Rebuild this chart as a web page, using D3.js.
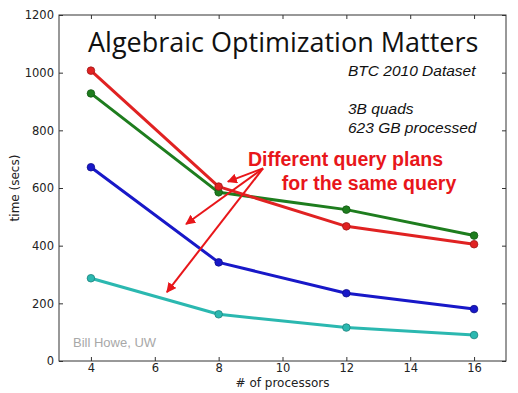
<!DOCTYPE html>
<html><head><meta charset="utf-8">
<script src="https://cdn.jsdelivr.net/npm/d3@7"></script>
<style>body{margin:0;background:#fff}</style>
</head><body><svg id="c" width="518" height="393"></svg>
<script>
const processors = [4, 8, 12, 16];
const redTimes   = [1007, 605, 467, 405];
const greenTimes = [928, 585, 525, 435];
const blueTimes  = [672, 342, 235, 180];
const cyanTimes  = [287, 162, 116, 90];
const xTicks = [4, 6, 8, 10, 12, 14, 16];
const yTicks = [0, 200, 400, 600, 800, 1000, 1200];
const seriesColors = ["#e02222", "#1e7d1e", "#1818c8", "#2bb8b0"];
const seriesEdges  = ["#a01818", "#145a14", "#10108a", "#1d827c"];
const arrowOrigin = [9.39, 668];
const arrowTips = [[8.29, 622], [6.98, 475], [6.38, 239]];

const svg = d3.select("#c");
const L = 59, T = 15, R = 506, B = 361;
const x = d3.scaleLinear().domain([3, 17]).range([L, R]);
const y = d3.scaleLinear().domain([0, 1200]).range([B, T]);

svg.append("rect").attr("width",518).attr("height",393).attr("fill","#fff");

// axes
const axFont = "DejaVu Sans, sans-serif";
const gx = svg.append("g").attr("transform",`translate(0,${B})`)
  .call(d3.axisBottom(x).tickValues(xTicks).tickSize(-4).tickPadding(3).tickFormat(d3.format("d")));
const gxt = svg.append("g").attr("transform",`translate(0,${T})`)
  .call(d3.axisTop(x).tickValues(xTicks).tickSize(-4).tickFormat(""));
const gy = svg.append("g").attr("transform",`translate(${L},0)`)
  .call(d3.axisLeft(y).tickValues(yTicks).tickSize(-4).tickPadding(5).tickFormat(d3.format("d")));
const gyr = svg.append("g").attr("transform",`translate(${R},0)`)
  .call(d3.axisRight(y).tickValues(yTicks).tickSize(-4).tickFormat(""));
[gx,gxt,gy,gyr].forEach(g=>{
  g.select(".domain").remove();
  g.selectAll("line").attr("stroke","#333");
  g.selectAll("text").attr("font-family",axFont).attr("font-size",11.5).attr("fill","#222");
});
svg.append("rect").attr("x",L).attr("y",T).attr("width",R-L).attr("height",B-T)
  .attr("fill","none").attr("stroke","#333").attr("stroke-width",1);

svg.append("text").attr("x",(L+R)/2).attr("y",387).attr("text-anchor","middle")
  .attr("font-family",axFont).attr("font-size",12).attr("fill","#222").text("# of processors");
svg.append("text").attr("transform",`translate(19,${(T+B)/2}) rotate(-90)`).attr("text-anchor","middle")
  .attr("font-family",axFont).attr("font-size",12).attr("fill","#222").text("time (secs)");

// series
const all = [redTimes, greenTimes, blueTimes, cyanTimes];
const order = [3,2,1,0];
const line = d3.line().x((d,i)=>x(processors[i])).y(d=>y(d));
order.forEach(k=>{
  svg.append("path").datum(all[k]).attr("d",line).attr("fill","none")
    .attr("stroke",seriesColors[k]).attr("stroke-width",3).attr("stroke-linejoin","round");
});
order.forEach(k=>{
  svg.selectAll(null).data(all[k]).enter().append("circle")
    .attr("cx",(d,i)=>x(processors[i])).attr("cy",d=>y(d)).attr("r",3.8)
    .attr("fill",seriesColors[k]).attr("stroke",seriesEdges[k]).attr("stroke-width",0.8);
});

// title and texts
svg.append("text").attr("x",88).attr("y",52).attr("font-family","Open Sans, sans-serif")
  .attr("font-size",27).attr("fill","#111").text("Algebraic Optimization Matters");
const it = svg.append("g").attr("font-family","Liberation Sans, Arial, sans-serif").attr("font-style","italic")
  .attr("font-size",15.5).attr("fill","#111");
it.append("text").attr("x",348).attr("y",76).text("BTC 2010 Dataset");
it.append("text").attr("x",348).attr("y",114).text("3B quads");
it.append("text").attr("x",348).attr("y",133).text("623 GB processed");

svg.append("text").attr("x",73).attr("y",347).attr("font-family","Liberation Sans, Arial, sans-serif")
  .attr("font-size",13).attr("fill","#a8a8a8").text("Bill Howe, UW");

// annotation
const red = "#e8161a";
const bt = svg.append("g").attr("font-family","Liberation Sans, Arial, sans-serif").attr("font-weight","bold")
  .attr("font-size",19.5).attr("fill",red).attr("text-anchor","middle");
bt.append("text").attr("x",345.5).attr("y",166).text("Different query plans");
bt.append("text").attr("x",369).attr("y",190).text("for the same query");

svg.append("defs").append("marker").attr("id","ah").attr("viewBox","0 0 10 10")
  .attr("refX",9).attr("refY",5).attr("markerWidth",5).attr("markerHeight",5)
  .attr("markerUnits","strokeWidth").attr("orient","auto")
  .append("path").attr("d","M0,0 L10,5 L0,10 z").attr("fill",red);
arrowTips.forEach(t=>{
  svg.append("line").attr("x1",x(arrowOrigin[0])).attr("y1",y(arrowOrigin[1]))
    .attr("x2",x(t[0])).attr("y2",y(t[1])).attr("stroke",red).attr("stroke-width",2)
    .attr("marker-end","url(#ah)");
});
</script></body></html>
